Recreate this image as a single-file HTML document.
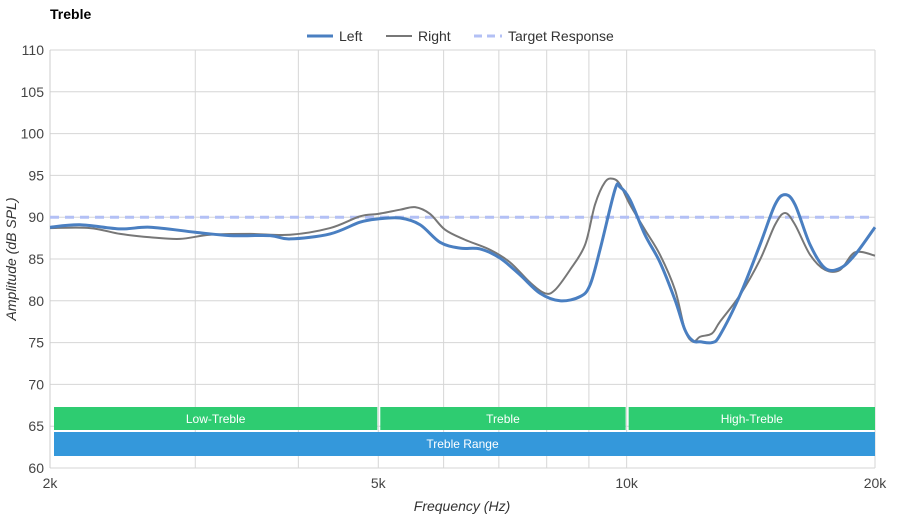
<!DOCTYPE html>
<html><head><meta charset="utf-8"><style>
body{margin:0;background:#fff;font-family:"Liberation Sans",sans-serif;}
svg text{font-family:"Liberation Sans",sans-serif;}
</style></head><body>
<svg id="c" width="900" height="520">
<text x="50" y="19" font-size="14" font-weight="bold" fill="#000">Treble</text>
<g>
<g><line x1="307" y1="36" x2="333" y2="36" stroke="#4a7fc1" stroke-width="3"/><text x="339" y="41" font-size="14" fill="#333">Left</text></g>
<g><line x1="386" y1="36" x2="412" y2="36" stroke="#777" stroke-width="2"/><text x="418" y="41" font-size="14" fill="#333">Right</text></g>
<g><line x1="474" y1="36" x2="502" y2="36" stroke="#b3c0f5" stroke-width="3" stroke-dasharray="8,5"/><text x="508" y="41" font-size="14" fill="#333">Target Response</text></g>
</g>
<g id="grid"></g>
<g id="bands"></g>
<g id="series"></g>
<g id="axes"></g>
<text x="462" y="511" font-size="14" font-style="italic" text-anchor="middle" fill="#333">Frequency (Hz)</text>
<text transform="translate(16,259) rotate(-90)" font-size="14" font-style="italic" text-anchor="middle" fill="#333">Amplitude (dB SPL)</text>
</svg>
<script>
const yTicks=[60,65,70,75,80,85,90,95,100,105,110];
const xGrid=[2000,3000,4000,5000,6000,7000,8000,9000,10000,20000];
const xTickVals=[2000,5000,10000,20000];
const xTickLabels=["2k","5k","10k","20k"];
const targetDb=90;
const leftFreq=[2000,2174,2433,2644,2999,3304,3696,3908,4370,4750,5000,5314,5618,5940,6281,6643,7024,7426,7852,8303,8780,9029,9283,9680,9818,10094,10524,10976,11446,11770,12036,12274,12690,12976,13724,14508,15131,15560,16000,16686,17400,18145,18915,20000];
const leftDb=[88.8,89.1,88.6,88.8,88.2,87.8,87.8,87.4,88.0,89.4,89.8,89.9,89.1,87.0,86.3,86.2,85.1,83.1,80.9,80.0,80.5,81.9,86.1,93.3,93.6,92.1,87.9,84.6,80.1,76.5,75.2,75.1,75.0,75.9,80.7,86.7,91.5,92.7,91.5,86.7,83.9,83.9,85.5,88.8];
const rightFreq=[2000,2237,2433,2644,2875,3126,3494,3908,4370,4750,5000,5314,5540,5775,6024,6368,6830,7222,7636,7962,8188,8538,8904,9154,9414,9626,9818,10094,10524,10976,11446,11770,12036,12274,12690,12976,13724,14508,15131,15560,16000,16686,17400,18145,18915,20000];
const rightDb=[88.7,88.7,88.0,87.6,87.4,87.9,88.0,87.9,88.7,90.1,90.4,90.9,91.2,90.4,88.5,87.3,86.1,84.6,82.2,80.9,81.3,83.7,86.7,91.5,94.2,94.6,93.9,91.5,88.5,85.5,81.3,76.5,75.1,75.7,76.1,77.5,80.7,84.9,89.1,90.5,89.1,85.5,83.7,83.7,85.8,85.4];
const bandNames=["Low-Treble","Treble","High-Treble"];
const bandStart=[2000,5000,10000];
const bandEnd=[5000,10000,20000];
const X0=50,X1=875,Y0=468,Y1=50;
const xs=f=>X0+(X1-X0)*Math.log10(f/2000)/Math.log10(10);
const ys=d=>Y0-(Y0-Y1)*(d-60)/50;
const NS="http://www.w3.org/2000/svg";
function mk(p,t,a){const e=document.createElementNS(NS,t);for(const k in a)e.setAttribute(k,a[k]);p.appendChild(e);return e;}
const grid=document.getElementById('grid'),axes=document.getElementById('axes'),bands=document.getElementById('bands'),series=document.getElementById('series');
yTicks.forEach(v=>{const l=mk(grid,'line',{x1:X0,x2:X1,y1:ys(v),y2:ys(v),stroke:'#d6d6d6','stroke-width':1});


const t=mk(axes,'text',{x:X0-6,y:ys(v)+5,'font-size':14,'text-anchor':'end',fill:'#444'});t.textContent=v;

});
xGrid.forEach(f=>{const l=mk(grid,'line',{x1:xs(f),x2:xs(f),y1:Y1,y2:Y0,stroke:'#d6d6d6','stroke-width':1});

});
mk(grid,'line',{x1:X0,x2:X0,y1:Y1,y2:Y0,stroke:'#ccc'});
xTickVals.forEach((f,i)=>{const t=mk(axes,'text',{x:xs(f),y:Y0+20,'font-size':14,'text-anchor':'middle',fill:'#444'});t.textContent=xTickLabels[i];

});
bandNames.forEach((n,i)=>{const a=xs(bandStart[i])+(i?2:4),b=xs(bandEnd[i])-(i<2?1:0);
const r=mk(bands,'rect',{x:a,y:407,width:b-a,height:23,fill:'#2ecc71'});


const t=mk(bands,'text',{x:(a+b)/2,y:423,'font-size':12,'text-anchor':'middle',fill:'#fff'});t.textContent=n;

});
const rr=mk(bands,'rect',{x:X0+4,y:432,width:X1-X0-4,height:24,fill:'#3498db'});


const rt=mk(bands,'text',{x:(X0+X1)/2,y:448,'font-size':12,'text-anchor':'middle',fill:'#fff'});rt.textContent='Treble Range';


const tl=mk(series,'line',{x1:X0,x2:X1,y1:ys(targetDb),y2:ys(targetDb),stroke:'#b3c0f5','stroke-width':3,'stroke-dasharray':'9,6'});


function path(F,D){const p=F.map((f,i)=>[xs(f),ys(D[i])]);let d='M'+p[0][0]+','+p[0][1];
for(let i=0;i<p.length-1;i++){const a=p[Math.max(0,i-1)],b=p[i],c=p[i+1],e=p[Math.min(p.length-1,i+2)];
const c1=[b[0]+(c[0]-a[0])/6,b[1]+(c[1]-a[1])/6],c2=[c[0]-(e[0]-b[0])/6,c[1]-(e[1]-b[1])/6];
d+=` C${c1[0]},${c1[1]} ${c2[0]},${c2[1]} ${c[0]},${c[1]}`;}return d;}
const rp=mk(series,'path',{d:path(rightFreq,rightDb),fill:'none',stroke:'#777','stroke-width':2});


const lp=mk(series,'path',{d:path(leftFreq,leftDb),fill:'none',stroke:'#4a7fc1','stroke-width':3});


</script>
</body></html>
